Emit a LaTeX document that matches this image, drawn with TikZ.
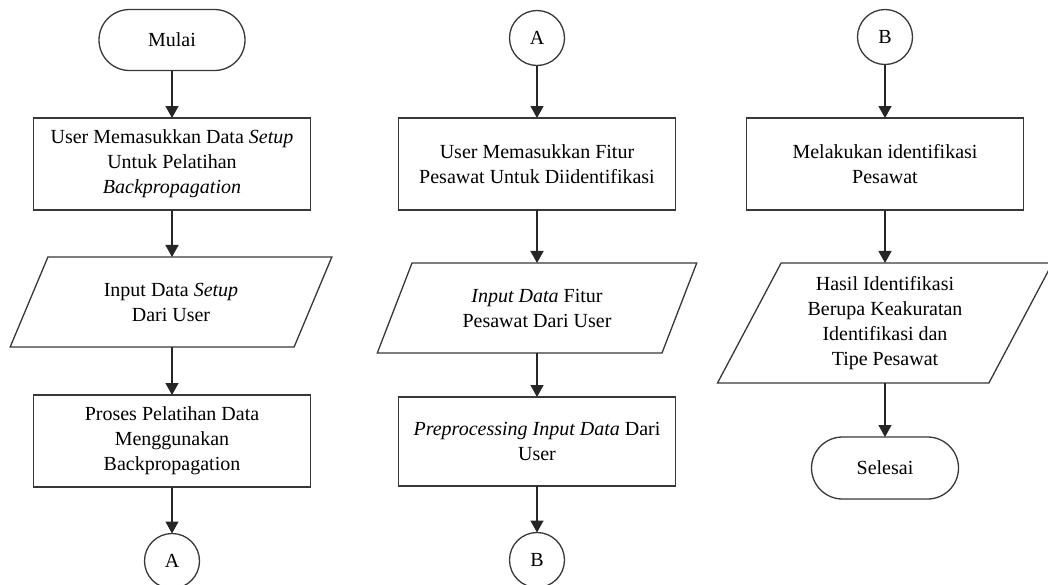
\documentclass[tikz,border=0pt]{standalone}
\usepackage{fontspec}
\setmainfont{Liberation Serif}
\usetikzlibrary{shapes.geometric,shapes.misc,arrows.meta}

\tikzset{
  base/.style={draw=black!78, line width=1.3pt, fill=white, align=center,
    inner sep=2pt, outer sep=0pt,
    font=\fontsize{20}{25}\selectfont},
  procbox/.style={base, rectangle, minimum width=277pt, minimum height=92pt},
  iobox/.style={base, trapezium, trapezium left angle=63.43,
    trapezium right angle=116.57, trapezium stretches=true},
  termbox/.style={base, rounded rectangle, minimum width=150pt, minimum height=61pt},
  conn/.style={base, circle, minimum size=55pt, inner sep=0pt},
  flow/.style={draw=black!85, line width=1.4pt,
    -{Triangle[length=12pt,width=13pt]}}
}

\begin{document}
\begin{tikzpicture}[x=1pt, y=-1pt]
\clip (0,0) rectangle (1048,584);
\fill[white] (0,0) rectangle (1048,584);

% first column: training
\node[termbox] (mulai) at (172,40) {Mulai};
\node[procbox] (setup) at (172,164)
  {User Memasukkan Data \textit{Setup}\\Untuk Pelatihan\\\textit{Backpropagation}};
\node[iobox, minimum width=322pt, minimum height=90pt] (insetup) at (171,302)
  {Input Data \textit{Setup}\\Dari User};
\node[procbox] (latih) at (172,441)
  {Proses Pelatihan Data\\Menggunakan\\Backpropagation};
\node[conn] (outA) at (172,561) {A};

% second column: feature input
\node[conn] (inA) at (537,38) {A};
\node[procbox] (fitur) at (537,164)
  {User Memasukkan Fitur\\Pesawat Untuk Diidentifikasi};
\node[iobox, minimum width=320pt, minimum height=90pt] (infitur) at (537,308)
  {\textit{Input Data} Fitur\\Pesawat Dari User};
\node[procbox, minimum height=89pt] (prep) at (537,441.5)
  {\textit{Preprocessing Input Data} Dari\\User};
\node[conn] (outB) at (537,560) {B};

% third column: identification
\node[conn] (inB) at (885,37) {B};
\node[procbox] (ident) at (885,164)
  {Melakukan identifikasi\\Pesawat};
\node[iobox, minimum width=336pt, minimum height=120pt] (hasil) at (885,323)
  {Hasil Identifikasi\\Berupa Keakuratan\\Identifikasi dan\\Tipe Pesawat};
\node[termbox, minimum width=151pt, minimum height=62pt] (selesai) at (885,468) {Selesai};

% connectors
\draw[flow] (mulai) -- (setup);
\draw[flow] (setup) -- (setup |- insetup.north);
\draw[flow] (setup |- insetup.south) -- (latih);
\draw[flow] (latih) -- (outA);

\draw[flow] (inA) -- (fitur);
\draw[flow] (fitur) -- (infitur);
\draw[flow] (infitur) -- (prep);
\draw[flow] (prep) -- (outB);

\draw[flow] (inB) -- (ident);
\draw[flow] (ident) -- (hasil);
\draw[flow] (hasil) -- (selesai);
\end{tikzpicture}
\end{document}
